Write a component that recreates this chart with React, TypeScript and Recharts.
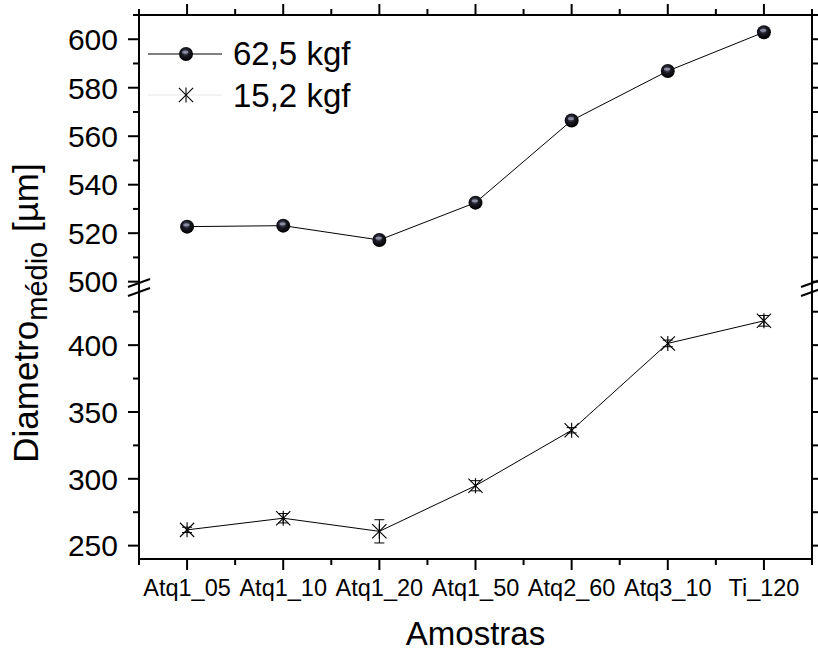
import React from 'react';
import { LineChart, Line, XAxis, YAxis, ErrorBar, Legend } from 'recharts';

// ---------- data ----------
const categories = ['Atq1_05', 'Atq1_10', 'Atq1_20', 'Atq1_50', 'Atq2_60', 'Atq3_10', 'Ti_120'];
const kgf625 = [522.7, 523.1, 517.2, 532.6, 566.5, 586.9, 602.9];
const kgf152 = [261.8, 270.5, 260.7, 294.8, 336.3, 401.3, 418.2];
const kgf152Err = [2, 3.5, 8.7, 3.8, 2, 2.5, 4];
const seriesNames = ['62,5 kgf', '15,2 kgf'];

const upperTicks = [500, 510, 520, 530, 540, 550, 560, 570, 580, 590, 600, 610];
const upperLabeled = [500, 520, 540, 560, 580, 600];
const lowerTicks = [250, 275, 300, 325, 350, 375, 400, 425];
const lowerLabeled = [250, 300, 350, 400];
const upperDomain = [497.8, 610];
const lowerDomain = [240, 443.5];

const xTitle = 'Amostras';
const yTitleMain = 'Diametro';
const yTitleSub = 'médio';
const yTitleUnit = ' [µm]';

const data = categories.map((c, i) => ({ cat: c, a: kgf625[i], b: kgf152[i], e: kgf152Err[i] }));

// ---------- layout ----------
const W = 818;
const H = 658;
const LEFT = 139;
const RIGHT_W = 6;
const PLOT_TOP = 15;
const BREAK_Y = 287;
const UPPER_EXTRA = 20;
const PLOT_BOTTOM = 559;
const BW = (W - LEFT - RIGHT_W) / categories.length;
const FONT = '"Liberation Sans", Arial, Helvetica, sans-serif';

const LeftTick = (labeled: number[]) => (props: any) => {
  const { x, y, payload } = props;
  const major = labeled.includes(payload.value);
  const len = major ? 11 : 6;
  return (
    <g>
      <line x1={x} y1={y} x2={x - len} y2={y} stroke="#000" strokeWidth={2} />
      {major && (
        <text x={x - 21} y={y} dy="0.36em" textAnchor="end" fontSize={30} fontFamily={FONT} fill="#000">
          {payload.value}
        </text>
      )}
    </g>
  );
};

const RightTick = (props: any) => {
  const { x, y } = props;
  return <line x1={x} y1={y} x2={x + 7} y2={y} stroke="#000" strokeWidth={2} />;
};

const BottomTick = (props: any) => {
  const { x, y, payload, index } = props;
  const last = index === categories.length - 1;
  return (
    <g>
      <line x1={x} y1={y} x2={x} y2={y + 11} stroke="#000" strokeWidth={2} />
      <line x1={x - BW / 2} y1={y} x2={x - BW / 2} y2={y + 6} stroke="#000" strokeWidth={2} />
      {last && <line x1={x + BW / 2} y1={y} x2={x + BW / 2} y2={y + 6} stroke="#000" strokeWidth={2} />}
      <text x={x} y={y + 37} textAnchor="middle" fontSize={23.5} fontFamily={FONT} fill="#000">
        {payload.value}
      </text>
    </g>
  );
};

const TopTick = (props: any) => {
  const { x, y, index } = props;
  const last = index === categories.length - 1;
  return (
    <g>
      <line x1={x} y1={y} x2={x} y2={y - 11} stroke="#000" strokeWidth={2} />
      <line x1={x - BW / 2} y1={y} x2={x - BW / 2} y2={y - 6} stroke="#000" strokeWidth={2} />
      {last && <line x1={x + BW / 2} y1={y} x2={x + BW / 2} y2={y - 6} stroke="#000" strokeWidth={2} />}
    </g>
  );
};

const Sphere = ({ cx, cy, r = 7 }: any) => (
  <g>
    <circle cx={cx} cy={cy} r={r} fill="url(#sphereGrad)" />
    <ellipse cx={cx - r * 0.1} cy={cy - r * 0.25} rx={r * 0.45} ry={r * 0.2} fill="#9a9ab0" opacity={0.8} />
  </g>
);

const Star = ({ cx, cy, r = 7.5 }: any) => {
  const d = r * 0.95;
  return (
    <g stroke="#000" strokeWidth={1.1}>
      <line x1={cx} y1={cy - r} x2={cx} y2={cy + r} />
      <line x1={cx - d} y1={cy - d} x2={cx + d} y2={cy + d} />
      <line x1={cx - d} y1={cy + d} x2={cx + d} y2={cy - d} />
    </g>
  );
};

const LegendContent = () => (
  <svg width={260} height={95} style={{ display: 'block' }}>
    <line x1={8} y1={24} x2={82} y2={24} stroke="#000" strokeWidth={1} />
    <Sphere cx={46} cy={24} />
    <text x={93} y={35} fontSize={33} fontFamily={FONT} fill="#000">{seriesNames[0]}</text>
    <line x1={8} y1={65} x2={82} y2={65} stroke="#e6e6e6" strokeWidth={1} />
    <Star cx={46} cy={65} />
    <text x={93} y={77} fontSize={33} fontFamily={FONT} fill="#000">{seriesNames[1]}</text>
  </svg>
);

export default function App() {
  const axisLine = { stroke: '#000', strokeWidth: 2 };
  return (
    <div style={{ position: 'absolute', left: 0, top: 0, width: W, height: H, background: '#fff' }}>
      <svg width={0} height={0} style={{ position: 'absolute' }}>
        <defs>
          <radialGradient id="sphereGrad" cx="45%" cy="38%" r="60%">
            <stop offset="0%" stopColor="#6a6a80" />
            <stop offset="45%" stopColor="#1a1a24" />
            <stop offset="100%" stopColor="#000" />
          </radialGradient>
        </defs>
      </svg>

      <div style={{ position: 'absolute', left: 0, top: BREAK_Y }}>
        <LineChart width={W} height={H - BREAK_Y} data={data} margin={{ top: 0, right: 0, bottom: 0, left: 0 }}>
          <XAxis
            dataKey="cat"
            scale="band"
            height={H - PLOT_BOTTOM}
            axisLine={axisLine}
            tickLine={false}
            tickSize={0}
            tickMargin={0}
            interval={0}
            tick={<BottomTick />}
          />
          <YAxis
            yAxisId="l"
            width={LEFT}
            domain={lowerDomain}
            ticks={lowerTicks}
            allowDataOverflow
            interval={0}
            axisLine={axisLine}
            tickLine={false}
            tickSize={0}
            tickMargin={0}
            tick={LeftTick(lowerLabeled)}
          />
          <YAxis
            yAxisId="r"
            orientation="right"
            width={RIGHT_W}
            domain={lowerDomain}
            ticks={lowerTicks}
            allowDataOverflow
            interval={0}
            axisLine={axisLine}
            tickLine={false}
            tickSize={0}
            tickMargin={0}
            tick={<RightTick />}
          />
          <Line
            yAxisId="l"
            dataKey="b"
            stroke="#000"
            strokeWidth={1}
            isAnimationActive={false}
            dot={(p: any) => <Star key={p.index} cx={p.cx} cy={p.cy} />}
            activeDot={false}
          >
            <ErrorBar dataKey="e" width={5} stroke="#000" strokeWidth={1} direction="y" isAnimationActive={false} />
          </Line>
        </LineChart>
      </div>

      <div style={{ position: 'absolute', left: 0, top: 0 }}>
        <LineChart width={W} height={BREAK_Y + UPPER_EXTRA} data={data} margin={{ top: 0, right: 0, bottom: UPPER_EXTRA, left: 0 }}>
          <XAxis
            dataKey="cat"
            orientation="top"
            scale="band"
            height={PLOT_TOP}
            axisLine={axisLine}
            tickLine={false}
            tickSize={0}
            tickMargin={0}
            interval={0}
            tick={<TopTick />}
          />
          <YAxis
            yAxisId="l"
            width={LEFT}
            domain={upperDomain}
            ticks={upperTicks}
            allowDataOverflow
            interval={0}
            axisLine={axisLine}
            tickLine={false}
            tickSize={0}
            tickMargin={0}
            tick={LeftTick(upperLabeled)}
          />
          <YAxis
            yAxisId="r"
            orientation="right"
            width={RIGHT_W}
            domain={upperDomain}
            ticks={upperTicks}
            allowDataOverflow
            interval={0}
            axisLine={axisLine}
            tickLine={false}
            tickSize={0}
            tickMargin={0}
            tick={<RightTick />}
          />
          <Legend
            layout="vertical"
            align="center"
            verticalAlign="middle"
            wrapperStyle={{ left: 140, top: 30, width: 260, height: 95 }}
            content={<LegendContent />}
          />
          <Line
            yAxisId="l"
            dataKey="a"
            stroke="#000"
            strokeWidth={1}
            isAnimationActive={false}
            dot={(p: any) => <Sphere key={p.index} cx={p.cx} cy={p.cy} />}
            activeDot={false}
          />
        </LineChart>
      </div>

      <svg width={W} height={H} style={{ position: 'absolute', left: 0, top: 0, pointerEvents: 'none' }}>
        <g stroke="#000" strokeWidth={2}>
          <line x1={LEFT - 11} y1={BREAK_Y + 0} x2={LEFT + 11} y2={BREAK_Y - 8} />
          <line x1={LEFT - 11} y1={BREAK_Y + 9} x2={LEFT + 11} y2={BREAK_Y + 1} />
          <line x1={W - RIGHT_W - 11} y1={BREAK_Y + 0} x2={W - RIGHT_W + 11} y2={BREAK_Y - 8} />
          <line x1={W - RIGHT_W - 11} y1={BREAK_Y + 9} x2={W - RIGHT_W + 11} y2={BREAK_Y + 1} />
        </g>
        <text x={(LEFT + W - RIGHT_W) / 2} y={645} textAnchor="middle" fontSize={33} fontFamily={FONT} fill="#000">
          {xTitle}
        </text>
        <text
          x={38}
          y={313}
          transform="rotate(-90, 38, 313)"
          textAnchor="middle"
          fontSize={35}
          fontFamily={FONT}
          fill="#000"
        >
          {yTitleMain}
          <tspan fontSize={29} dy={9}>{yTitleSub}</tspan>
          <tspan dy={-9}>{yTitleUnit}</tspan>
        </text>
      </svg>
    </div>
  );
}
